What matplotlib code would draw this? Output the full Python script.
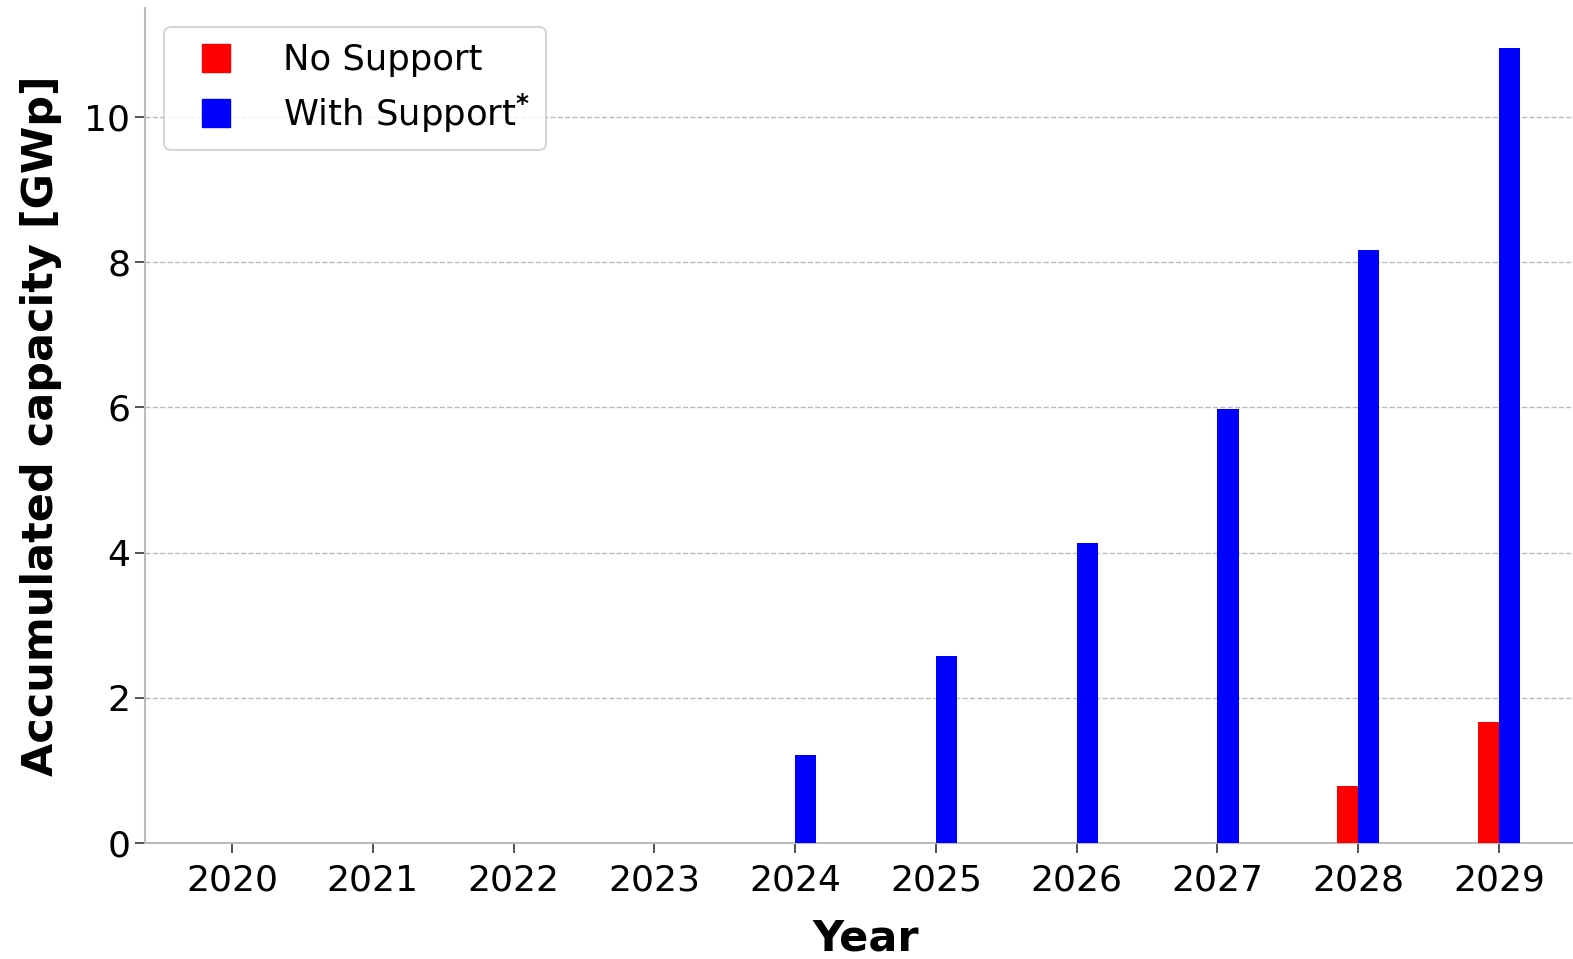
import matplotlib
matplotlib.use("Agg")
import matplotlib.pyplot as plt
import numpy as np
from matplotlib.lines import Line2D

years = [2020, 2021, 2022, 2023, 2024, 2025, 2026, 2027, 2028, 2029]
no_support = [0, 0, 0, 0, 0, 0, 0, 0, 0.79, 1.67]
with_support = [0, 0, 0, 0, 1.21, 2.58, 4.13, 5.98, 8.17, 10.95]
series_labels = ["No Support", "With Support$^{\\mathbf{*}}$"]
series_colors = ["#ff0000", "#0000ff"]

fig = plt.figure(figsize=(15.73, 9.59), dpi=100)
ax = fig.add_axes([145/1573, 1-843/959, (1586-145)/1573, (843-8)/959])

x = np.array(years, dtype=float)
w = 0.15
ax.bar(x - w/2, no_support, width=w, color=series_colors[0], linewidth=0, zorder=3)
ax.bar(x + w/2, with_support, width=w, color=series_colors[1], linewidth=0, zorder=3)

# x scale: 2020 at px 232, 2029 at px 1499
px_per_year = (1499 - 232) / 9
ax.set_xlim(2020 - (232 - 145) / px_per_year, 2029 + (1586 - 1499) / px_per_year)
ax.set_ylim(0, (843 - 8) / 72.6)
ax.set_xticks(years)
ax.set_xticklabels([str(y) for y in years])
ax.set_yticks([0, 2, 4, 6, 8, 10])

ax.tick_params(axis="both", labelsize=26, length=7, width=1.2, color="#333333")
ax.tick_params(axis="x", pad=8)
ax.yaxis.grid(True, linestyle="--", color="#bbbbbb", linewidth=1.0, zorder=0)
ax.set_axisbelow(True)
for s in ["top", "right"]:
    ax.spines[s].set_visible(False)
for s in ["left", "bottom"]:
    ax.spines[s].set_color("#bbbbbb")
    ax.spines[s].set_linewidth(1.5)

ax.set_xlabel("Year", fontsize=31, fontweight="bold", labelpad=14)
ax.set_ylabel("Accumulated capacity [GWp]", fontsize=31, fontweight="bold", labelpad=16)

handles = [Line2D([0], [0], marker="s", linestyle="none", markersize=19.5,
                  markerfacecolor=c, markeredgecolor=c) for c in series_colors]
leg = ax.legend(handles, series_labels, loc="upper left", fontsize=25.5,
                bbox_to_anchor=(0.0135, 0.977), frameon=True, handletextpad=0.9,
                borderpad=0.45, labelspacing=0.4, borderaxespad=0)
leg.get_frame().set_edgecolor("#cccccc")
leg.get_frame().set_linewidth(1.5)

fig.savefig("out.png", dpi=100)
